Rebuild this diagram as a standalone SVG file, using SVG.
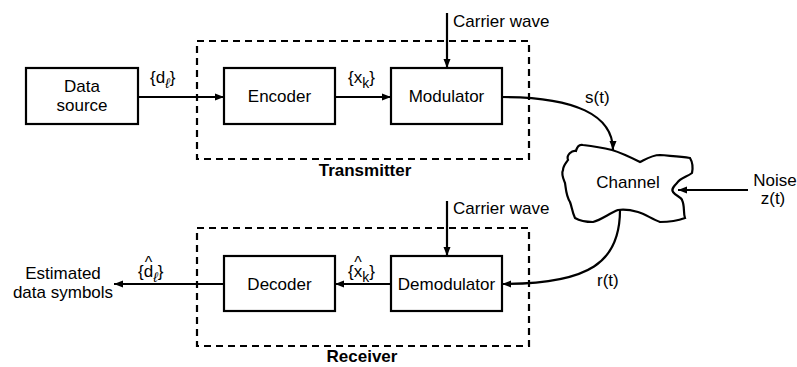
<svg xmlns="http://www.w3.org/2000/svg" width="797" height="367" viewBox="0 0 797 367">
<defs>
<marker id="ah" markerWidth="9" markerHeight="8" refX="9" refY="4" orient="auto" markerUnits="userSpaceOnUse">
<path d="M0,0.5 L9,4 L0,7.5 Z" fill="#000"/>
</marker>
<style>
text{font-family:"Liberation Sans",Arial,sans-serif;font-size:17px;fill:#000}
.c{text-anchor:middle}
.b{font-weight:bold}
.box{fill:#fff;stroke:#000;stroke-width:2.2}
.dash{fill:none;stroke:#000;stroke-width:2.2;stroke-dasharray:7,5}
.ln{fill:none;stroke:#000;stroke-width:2.2;marker-end:url(#ah)}
.it{font-style:italic;font-size:14px}
.sub{font-size:14px}
.hat{font-size:16px;text-anchor:middle}
</style>
</defs>
<rect width="797" height="367" fill="#fff"/>
<g id="transmitter">
<rect class="dash" x="197" y="41" width="332" height="118"/>
<text class="b c" x="365" y="176">Transmitter</text>
</g>
<g id="receiver">
<rect class="dash" x="197" y="228" width="332" height="118"/>
<text class="b c" x="362" y="362">Receiver</text>
</g>
<g id="connectors">
<line class="ln" x1="138" y1="97" x2="224" y2="97"/>
<line class="ln" x1="335" y1="97" x2="391" y2="97"/>
<line class="ln" x1="447" y1="13" x2="447" y2="68"/>
<path class="ln" d="M502,97 C575,97 613,115 613,150"/>
<line class="ln" x1="748" y1="190" x2="678" y2="190"/>
<path class="ln" d="M620,210 C620,262 590,284 502,284"/>
<line class="ln" x1="447" y1="201" x2="447" y2="256"/>
<line class="ln" x1="391" y1="284" x2="335" y2="284"/>
<line class="ln" x1="224" y1="284" x2="114" y2="284"/>
</g>
<g id="labels">
<text x="453" y="27">Carrier wave</text>
<text x="453" y="214">Carrier wave</text>
<text x="150" y="83">{d<tspan class="it" dy="5">ℓ</tspan><tspan dy="-5">}</tspan></text>
<text x="348" y="83">{x<tspan class="sub" dy="5">k</tspan><tspan dy="-5">}</tspan></text>
<text x="138" y="277">{d<tspan class="it" dy="5">ℓ</tspan><tspan dy="-5">}</tspan></text>
<text class="hat" x="148.4" y="268">^</text>
<text x="348" y="277">{x<tspan class="sub" dy="5">k</tspan><tspan dy="-5">}</tspan></text>
<text class="hat" x="358" y="268">^</text>
<text x="585" y="103">s(t)</text>
<text x="597" y="286">r(t)</text>
<text x="775" y="186" class="c">Noise</text>
<text x="773" y="204" class="c">z(t)</text>
<text x="63" y="279" class="c">Estimated</text>
<text x="63" y="298" class="c">data symbols</text>
</g>
<g id="data-source">
<rect class="box" x="26" y="68" width="112" height="56"/>
<text class="c" x="82" y="92">Data</text>
<text class="c" x="82" y="111">source</text>
</g>
<g id="encoder">
<rect class="box" x="224" y="68" width="111" height="56"/>
<text class="c" x="279.5" y="102">Encoder</text>
</g>
<g id="modulator">
<rect class="box" x="391" y="68" width="111" height="56"/>
<text class="c" x="446.5" y="102">Modulator</text>
</g>
<g id="channel">
<path fill="#fff" stroke="#000" stroke-width="2.2" d="M568,160 C566,155 572,150 576,151 C577,147 579,144 583,145 C592,146 600,147 612,150 C622,153 632,158 640,162 C646,159 652,155 660,155 C670,156 680,156 690,158 C693,163 693,168 692,173 C687,177 680,178 677,183 C674,186 671,189 673,192 C676,196 681,197 682,200 C685,206 683,212 685,218 C677,221 668,222 660,222 C652,219 645,214 638,212 C631,210 624,209 618,210 C610,213 601,220 593,222 C586,222 580,221 575,218 C572,212 572,207 570,202 C566,196 566,189 565,183 C563,178 561,174 563,170 C563,166 566,163 568,160 Z"/>
<text class="c" x="628" y="188">Channel</text>
</g>
<g id="demodulator">
<rect class="box" x="391" y="256" width="111" height="55"/>
<text class="c" x="446.5" y="290">Demodulator</text>
</g>
<g id="decoder">
<rect class="box" x="224" y="256" width="111" height="55"/>
<text class="c" x="279.5" y="290">Decoder</text>
</g>
</svg>
